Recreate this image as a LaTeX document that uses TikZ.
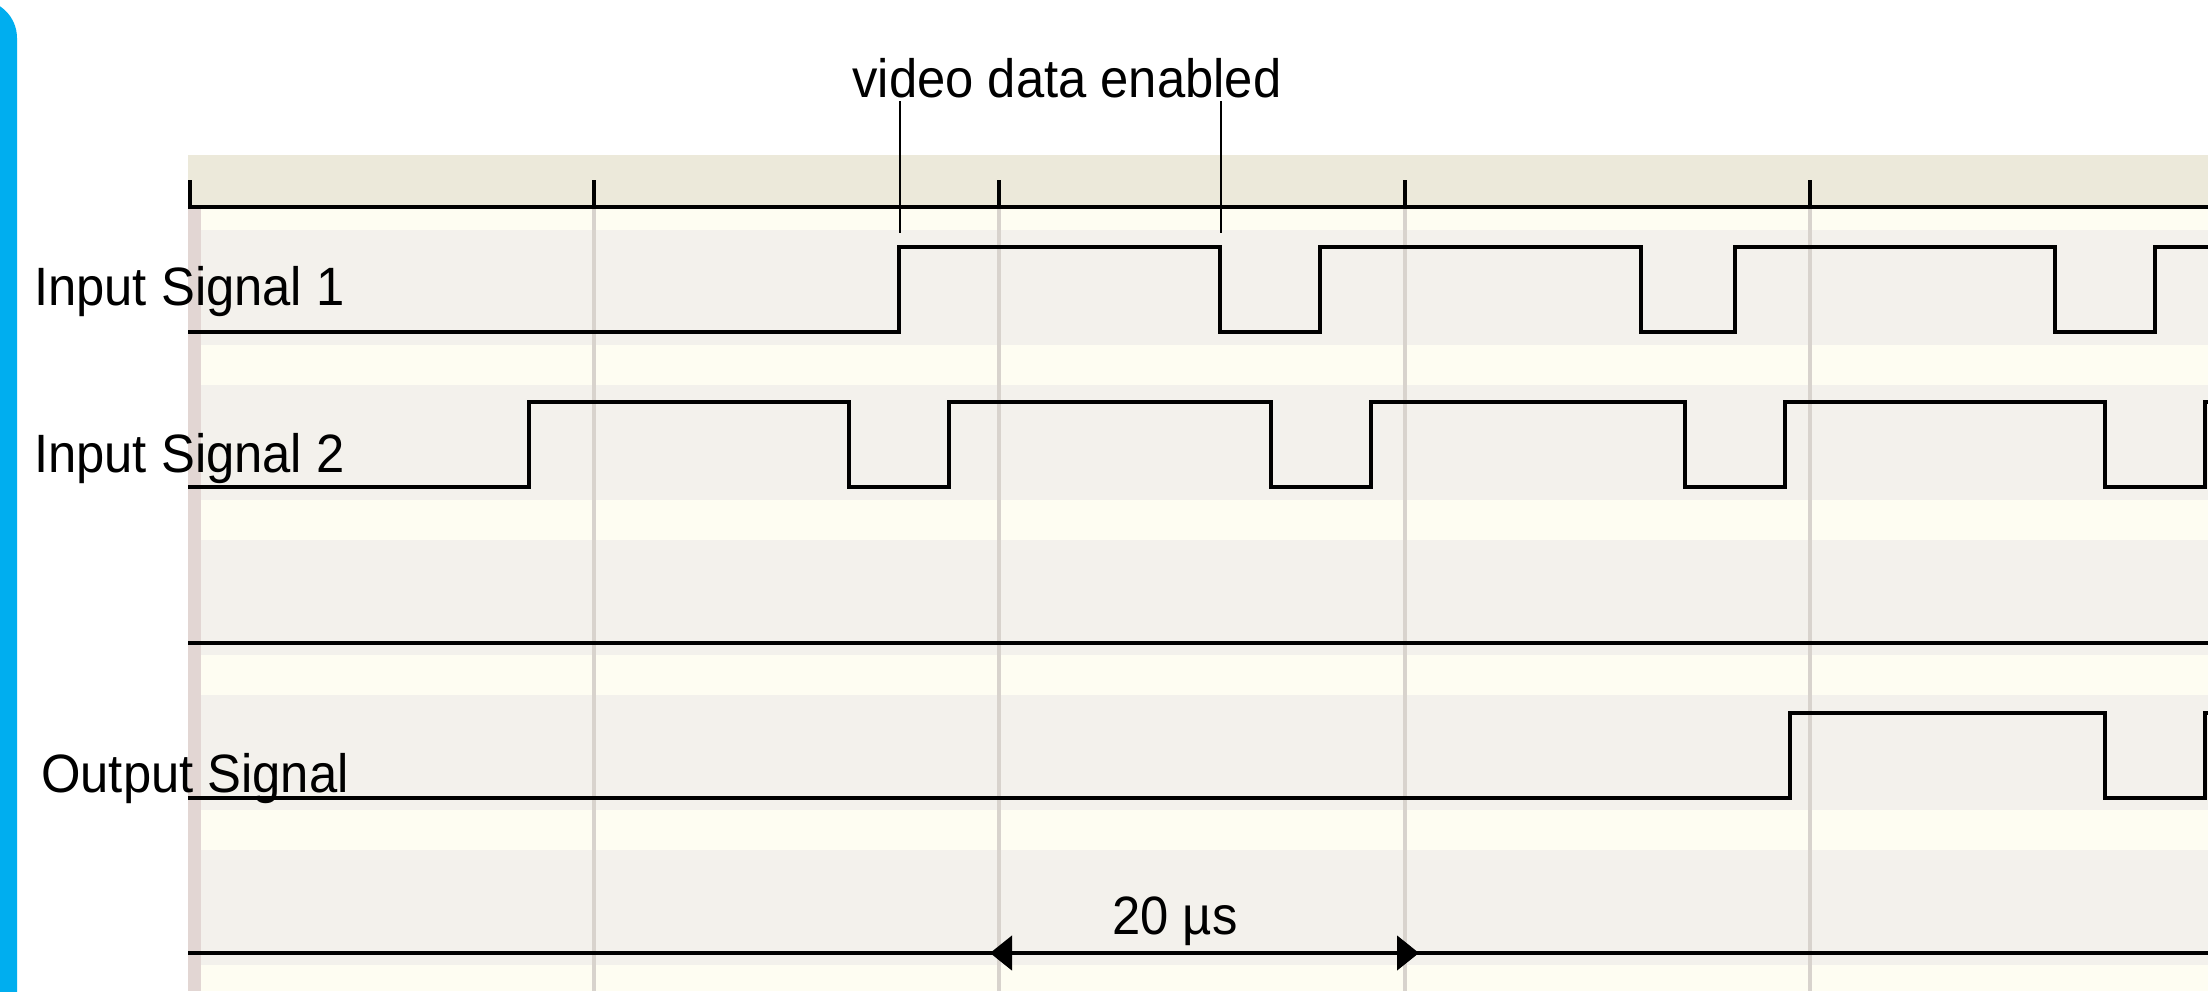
\documentclass[tikz,border=0pt]{standalone}
\usepackage{fontspec}
\setmainfont{Liberation Sans}[FakeStretch=0.94]
\usetikzlibrary{arrows.meta}
\definecolor{barblue}{RGB}{0,174,239}
\definecolor{hdr}{RGB}{236,233,218}
\definecolor{rowgray}{RGB}{243,241,236}
\definecolor{rowcream}{RGB}{254,253,242}
\definecolor{gridc}{RGB}{216,211,205}
\definecolor{edgepink}{RGB}{226,214,211}
\begin{document}
\begin{tikzpicture}[x=1pt,y=-1pt,
  sig/.style={line width=4.5pt, black},
  tickmark/.style={line width=4.5pt, black},
  gridline/.style={line width=4pt, gridc},
  lead/.style={line width=2pt, black},
  lbl/.style={font=\fontsize{54}{60}\selectfont, inner sep=0pt, text=black},
  dimtip/.tip={Triangle[length=22pt,width=34pt]},
]
\useasboundingbox (0,0) rectangle (2208,991);
\clip (0,0) rectangle (2208,991);
\fill[white] (0,0) rectangle (2208,991);
% blue side bar
\fill[barblue, rounded corners=38pt] (-40,0) rectangle (17,1100);
% background bands
\fill[hdr] (188,155) rectangle (2208,207);
\fill[rowcream] (188,207) rectangle (2208,991);
\foreach \y in {230,385,540,695,850}
  \fill[rowgray] (188,\y) rectangle (2208,\y+115);
% grid lines
\foreach \x in {594,999,1405,1810}
  \draw[gridline] (\x,207) -- (\x,991);
\fill[edgepink] (188,207) rectangle (201,991);
% time axis with ticks
\draw[sig] (188,207) -- (2208,207);
\foreach \x in {190,594,999,1405,1810}
  \draw[tickmark] (\x,180) -- (\x,207);
% Input Signal 1
\draw[sig] (188,332) -- (899,332) -- (899,247) -- (1220,247) -- (1220,332)
  -- (1320,332) -- (1320,247) -- (1641,247) -- (1641,332) -- (1735,332)
  -- (1735,247) -- (2055,247) -- (2055,332) -- (2155,332) -- (2155,247) -- (2212,247);
% Input Signal 2
\draw[sig] (188,487) -- (529,487) -- (529,402) -- (849,402) -- (849,487)
  -- (949,487) -- (949,402) -- (1271,402) -- (1271,487) -- (1371,487)
  -- (1371,402) -- (1685,402) -- (1685,487) -- (1785,487) -- (1785,402)
  -- (2105,402) -- (2105,487) -- (2205,487) -- (2205,402) -- (2212,402);
% empty row
\draw[sig] (188,643) -- (2208,643);
% Output Signal
\draw[sig] (188,798) -- (1790,798) -- (1790,713) -- (2105,713) -- (2105,798)
  -- (2205,798) -- (2205,713) -- (2212,713);
% bottom line
\draw[sig] (188,953) -- (2208,953);
% labels
\node[lbl, anchor=base west] (in1) at (34,305) {Input Signal 1};
\node[lbl, anchor=base west] (in2) at (34,472) {Input Signal 2};
\node[lbl, anchor=base west] (out) at (41,792) {Output Signal};
\node[lbl, anchor=base] (vde) at (1067,97) {video data enabled};
\node[lbl, anchor=base] (dim) at (1175,934) {20 µs};
% leader lines from the label to the signal edges
\coordinate (l1top) at (900,101);
\coordinate (l1bot) at (900,233);
\coordinate (l2top) at (1221,101);
\coordinate (l2bot) at (1221,233);
\draw[lead] (l1top) -- (l1bot);
\draw[lead] (l2top) -- (l2bot);
% 20 us dimension arrow
\coordinate (dimL) at (990,953);
\coordinate (dimR) at (1419,953);
\draw[sig, dimtip-dimtip] (dimL) -- (dimR);
\end{tikzpicture}
\end{document}
